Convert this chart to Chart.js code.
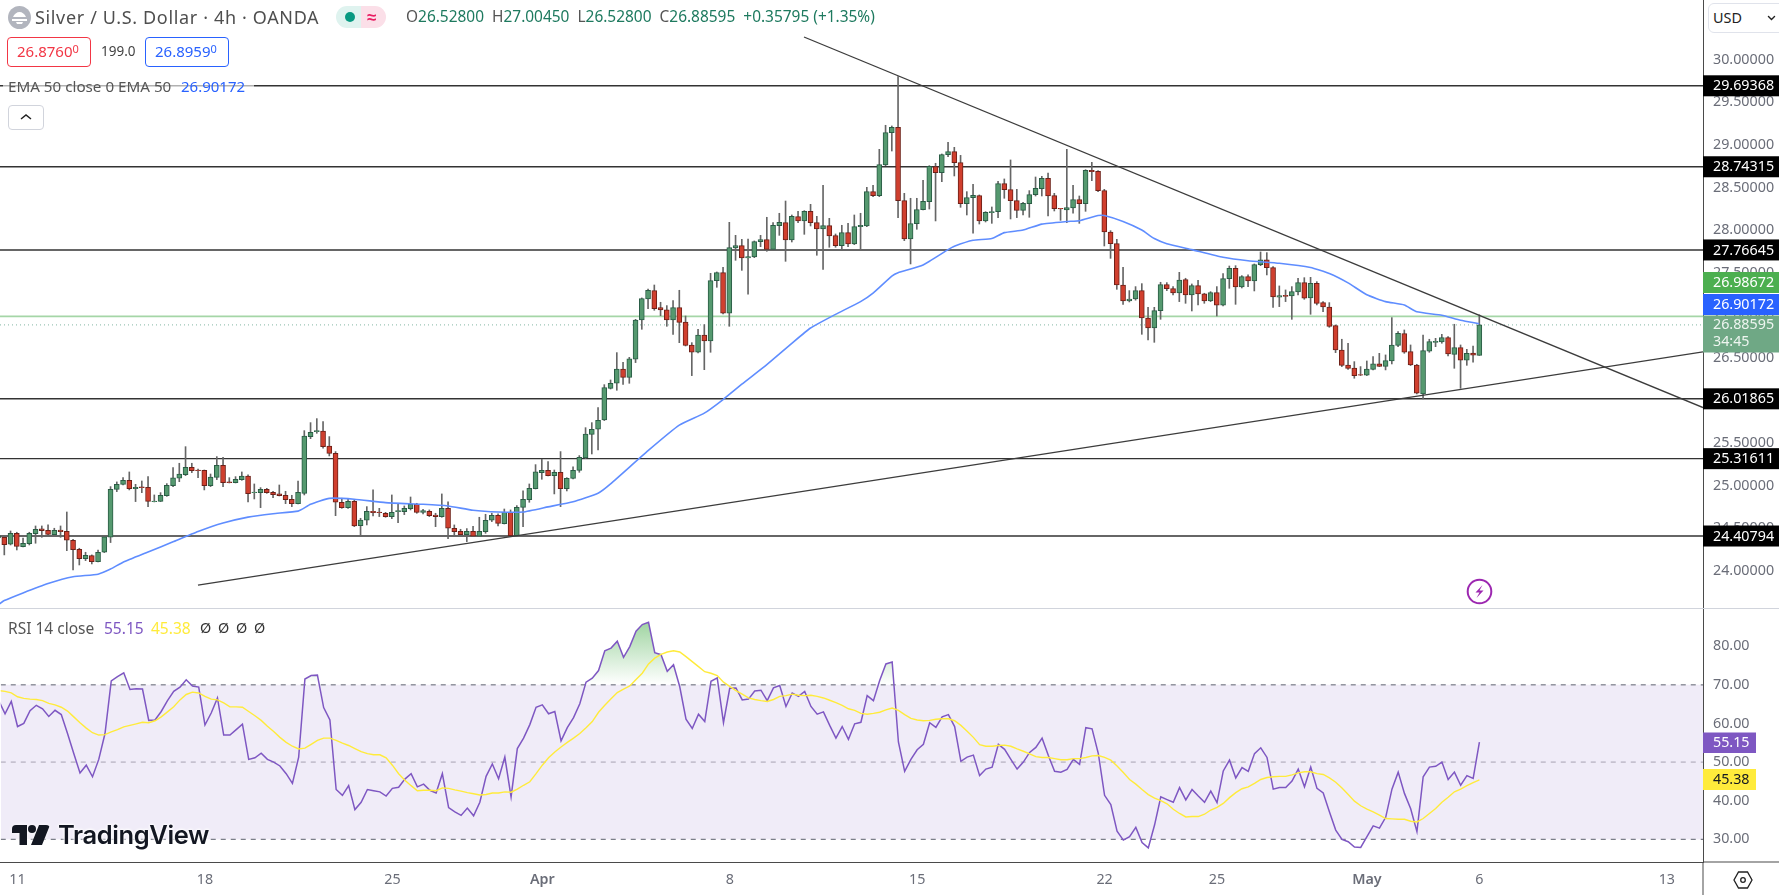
<!DOCTYPE html>
<html><head><meta charset="utf-8">
<script src="https://cdn.jsdelivr.net/npm/chart.js@4"></script>
<style>
html,body{margin:0;padding:0;background:#fff;width:1779px;height:895px;overflow:hidden}
body{font-family:"Noto Sans",sans-serif;color:#555}
canvas{position:absolute;left:0}
.t{position:absolute;white-space:nowrap;line-height:1}
.box{position:absolute;box-sizing:border-box;border-radius:4px}
sup{font-size:11px;vertical-align:baseline;position:relative;top:-4px}
</style></head><body>
<canvas id="main" width="1779" height="609" style="top:0;width:1779px;height:609px"></canvas>
<canvas id="rsi" width="1779" height="286" style="top:609px;width:1779px;height:286px"></canvas>

<svg class="box" style="left:8px;top:6px;width:23px;height:23px" viewBox="0 0 23 23"><circle cx="11.5" cy="11.5" r="11.5" fill="#b2b5be"/><path d="M5 11c1-3 4-5 6.500-5s5.500 2 6.500 5z" fill="#fff"/><rect x="4" y="13" width="15" height="2" fill="#fff"/><path d="M8 16h7l-1 2H9z" fill="#fff"/></svg>
<div class="t" style="left:35px;top:8px;font-size:18px;letter-spacing:.65px;color:#4f4f4f">Silver / U.S. Dollar · 4h · OANDA</div>
<div class="box" style="left:336px;top:6px;width:25px;height:22px;background:#dff3ef;border-radius:11px 0 0 11px"></div>
<div class="box" style="left:361px;top:6px;width:25px;height:22px;background:#fbdfe8;border-radius:0 11px 11px 0"></div>
<div class="box" style="left:345px;top:12px;width:10px;height:10px;background:#089981;border-radius:5px"></div>
<div class="t" style="left:367px;top:8px;font-size:17px;color:#e91e63;font-weight:700">≈</div>
<div class="t" style="left:406px;top:9px;font-size:15.450px;color:#555">O<span style="color:#1e7a5f">26.52800</span>&nbsp; H<span style="color:#1e7a5f">27.00450</span>&nbsp; L<span style="color:#1e7a5f">26.52800</span>&nbsp; C<span style="color:#1e7a5f">26.88595</span>&nbsp; <span style="color:#1e7a5f">+0.35795 (+1.35%)</span></div>

<div class="box" style="left:7px;top:37px;width:84px;height:30px;border:1px solid #f23645"></div>
<div class="t" style="left:17px;top:44px;font-size:15px;color:#f23645">26.8760<sup>0</sup></div>
<div class="t" style="left:101px;top:45px;font-size:13.5px;color:#444">199.0</div>
<div class="box" style="left:145px;top:37px;width:84px;height:30px;border:1px solid #2962ff"></div>
<div class="t" style="left:155px;top:44px;font-size:15px;color:#2962ff">26.8959<sup>0</sup></div>

<div class="box" style="left:3px;top:78px;width:251px;height:17px;background:rgba(255,255,255,.62);border-radius:0"></div>
<div class="t" style="left:8px;top:79px;font-size:15.200px;color:#555">EMA 50 close 0 EMA 50</div>
<div class="t" style="left:181px;top:79px;font-size:15px;color:#2962ff">26.90172</div>
<div class="box" style="left:8px;top:105px;width:36px;height:25px;border:1px solid #d1d4dc;background:#fff"></div>
<svg class="box" style="left:20px;top:112px;width:12px;height:10px" viewBox="0 0 12 10"><path d="M1 7l5-4 5 4" fill="none" stroke="#222" stroke-width="1.500"/></svg>

<div class="box" style="left:1708px;top:3px;width:80px;height:30px;border:1px solid #e0e3eb;border-radius:6px;background:#fff"></div>
<div class="t" style="left:1713px;top:11px;font-size:14.4px;color:#222">USD</div>
<svg class="box" style="left:1767px;top:15px;width:9px;height:6px" viewBox="0 0 9 6"><path d="M1 1l3.500 3.500L8 1" fill="none" stroke="#222" stroke-width="1.400"/></svg>

<svg class="box" style="left:1466px;top:578px;width:27px;height:27px" viewBox="0 0 27 27"><circle cx="13.5" cy="13.500" r="11.800" fill="#fff" stroke="#9c27b0" stroke-width="2"/><path d="M16.500 7l-7 7.500h4l-3 5.500 7-7.500h-4z" fill="#9c27b0"/></svg>

<div class="t" style="left:8px;top:621px;font-size:15.500px;color:#555">RSI 14 close</div>
<div class="t" style="left:104px;top:621px;font-size:15.500px;color:#7e57c2">55.15</div>
<div class="t" style="left:151px;top:621px;font-size:15.500px;color:#ffeb3b">45.38</div>
<div class="t" style="left:200px;top:621px;font-size:14.4px;color:#333;word-spacing:3px">Ø Ø Ø Ø</div>

<svg class="box" style="left:12px;top:825px;width:38px;height:20px;filter:drop-shadow(0 0 2px #fff)" viewBox="0 0 38 20"><path d="M0 0h15v20H7.500V8H0z" fill="#131722"/><circle cx="20" cy="4" r="4" fill="#131722"/><path d="M27 0h11l-8 20H19z" fill="#131722"/></svg>
<div class="t" style="left:58px;top:822px;font-size:25.500px;font-weight:600;letter-spacing:-.4px;font-family:Inter,sans-serif;color:#131722;text-shadow:0 0 3px #fff,0 0 3px #fff,0 0 3px #fff">TradingView</div>

<svg class="box" style="left:1733px;top:869px;width:20px;height:22px" viewBox="0 0 20 22"><path d="M5.500 3h9L19 11l-4.500 8h-9L1 11z" fill="none" stroke="#222" stroke-width="1.300"/><circle cx="10" cy="11" r="2.300" fill="none" stroke="#222" stroke-width="1.300"/></svg>

<script>
const opens=[24.385,24.393,24.311,24.440,24.283,24.319,24.436,24.491,24.475,24.424,
24.479,24.463,24.358,24.252,24.142,24.178,24.107,24.217,24.393,24.956,
25.015,25.062,24.964,24.984,24.980,24.812,24.815,24.882,24.999,25.086,
25.129,25.215,25.183,25.180,24.999,25.097,25.238,25.043,25.035,25.070,
25.113,24.917,24.917,24.956,24.921,24.902,24.886,24.839,24.788,24.909,
25.575,25.633,25.641,25.465,25.379,24.804,24.741,24.815,24.530,24.593,
24.698,24.690,24.675,24.636,24.694,24.694,24.729,24.784,24.686,24.698,
24.655,24.636,24.733,24.499,24.463,24.424,24.463,24.405,24.459,24.593,
24.651,24.553,24.686,24.412,24.745,24.835,24.964,25.152,25.179,25.117,
25.156,24.964,25.085,25.179,25.324,25.602,25.661,25.771,26.142,26.201,
26.369,26.271,26.483,26.944,27.191,27.289,27.089,27.062,26.944,27.089,
26.921,26.651,26.565,26.768,26.698,27.406,27.500,27.023,27.790,27.817,
27.672,27.684,27.864,27.888,27.774,28.052,28.087,27.884,28.158,28.107,
28.220,28.087,28.013,28.052,27.934,27.817,27.970,27.837,28.040,28.048,
28.451,28.404,28.764,29.144,29.206,28.345,27.895,28.075,28.240,28.333,
28.744,28.674,28.885,28.920,28.791,28.310,28.381,28.404,28.107,28.204,
28.216,28.545,28.474,28.345,28.232,28.310,28.416,28.486,28.607,28.404,
28.255,28.236,28.259,28.357,28.310,28.701,28.690,28.463,27.977,27.841,
27.355,27.168,27.191,27.289,26.968,26.850,27.054,27.359,27.312,27.261,
27.418,27.238,27.348,27.250,27.168,27.265,27.117,27.430,27.551,27.332,
27.453,27.402,27.594,27.649,27.559,27.211,27.234,27.226,27.273,27.383,
27.203,27.375,27.148,27.097,26.878,26.592,26.416,26.381,26.303,26.295,
26.365,26.428,26.400,26.463,26.647,26.784,26.573,26.416,26.076,26.577,
26.682,26.686,26.737,26.541,26.620,26.471,26.557,26.528];
const highs=[24.420,24.412,24.467,24.452,24.385,24.452,24.526,24.526,24.538,24.499,
24.526,24.690,24.369,24.264,24.217,24.186,24.244,24.401,24.988,25.043,
25.093,25.160,25.015,25.054,25.105,24.890,24.917,25.023,25.211,25.262,
25.457,25.262,25.195,25.183,25.136,25.340,25.332,25.093,25.105,25.160,
25.125,25.019,24.976,24.968,24.933,25.007,24.933,24.886,25.054,25.645,
25.739,25.786,25.751,25.575,25.399,24.851,24.839,24.831,24.616,24.753,
24.949,24.733,24.686,24.890,24.792,24.761,24.866,24.792,24.722,24.714,
24.675,24.902,24.808,24.538,24.487,24.495,24.522,24.628,24.663,24.675,
24.667,24.725,24.714,24.765,24.937,25.019,25.246,25.309,25.281,25.183,
25.399,25.093,25.219,25.352,25.680,25.739,25.915,26.185,26.240,26.561,
26.448,26.506,26.952,27.203,27.308,27.355,27.152,27.113,27.171,27.293,
26.991,26.678,26.835,26.890,27.492,27.508,27.563,28.091,27.938,27.891,
27.895,27.872,27.938,28.150,28.087,28.197,28.341,28.177,28.220,28.228,
28.302,28.161,28.525,28.138,27.954,28.056,28.079,28.177,28.197,28.502,
28.525,28.948,29.230,29.222,29.801,28.431,28.373,28.373,28.584,28.756,
28.784,28.893,29.030,28.971,28.877,28.451,28.537,28.412,28.216,28.271,
28.572,28.600,28.823,28.478,28.326,28.463,28.623,28.631,28.670,28.431,
28.255,28.948,28.525,28.400,28.709,28.795,28.698,28.478,27.993,27.891,
27.563,27.289,27.336,27.371,27.093,27.093,27.387,27.383,27.336,27.504,
27.434,27.367,27.410,27.258,27.277,27.336,27.488,27.578,27.582,27.465,
27.473,27.602,27.743,27.735,27.571,27.344,27.297,27.336,27.434,27.441,
27.445,27.394,27.160,27.148,26.886,26.718,26.671,26.455,26.397,26.463,
26.514,26.553,26.534,26.972,26.808,26.827,26.651,26.424,26.768,26.718,
26.729,26.776,26.749,26.894,26.651,26.600,26.639,27.0045];
const lows=[24.377,24.186,24.303,24.244,24.279,24.303,24.323,24.393,24.420,24.412,
24.393,24.236,24.009,24.068,24.119,24.080,24.103,24.213,24.331,24.929,
25.007,24.949,24.812,24.917,24.753,24.808,24.812,24.874,24.988,25.046,
25.117,25.152,25.093,24.949,24.988,25.070,24.988,25.031,25.031,25.062,
24.808,24.843,24.741,24.909,24.859,24.878,24.788,24.753,24.784,24.890,
25.551,25.614,25.438,25.348,24.647,24.733,24.733,24.518,24.409,24.538,
24.643,24.636,24.628,24.612,24.565,24.659,24.714,24.675,24.667,24.636,
24.518,24.628,24.377,24.405,24.409,24.342,24.401,24.401,24.440,24.577,
24.526,24.549,24.409,24.409,24.518,24.804,24.960,25.074,25.113,24.902,
24.753,24.937,25.078,25.156,25.316,25.371,25.418,25.763,26.134,26.119,
26.189,26.201,26.444,26.835,27.077,27.058,26.995,26.870,26.776,26.678,
26.639,26.291,26.557,26.361,26.565,27.328,27.015,26.870,27.645,27.527,
27.246,27.676,27.805,27.751,27.766,27.938,27.633,27.860,28.087,27.950,
28.048,27.704,27.539,27.798,27.798,27.766,27.805,27.829,27.774,28.040,
28.392,28.392,28.756,28.928,28.146,27.876,27.602,28.009,28.236,28.247,
28.107,28.568,28.862,28.635,28.267,28.177,27.962,28.071,28.095,28.079,
28.146,28.373,28.130,28.146,28.177,28.150,28.400,28.400,28.165,28.224,
28.114,28.087,28.197,28.079,28.220,28.580,28.451,27.813,27.668,27.304,
27.128,27.156,27.177,26.776,26.710,26.682,26.952,27.289,27.238,27.160,
27.140,27.050,27.121,27.140,27.160,26.991,27.109,27.316,27.128,27.320,
27.336,27.285,27.582,27.473,27.093,27.101,27.160,26.952,27.238,27.187,
27.011,27.121,27.042,26.858,26.561,26.397,26.365,26.260,26.291,26.291,
26.358,26.397,26.358,26.428,26.631,26.553,26.409,26.076,26.017,26.565,
26.631,26.671,26.522,26.377,26.142,26.412,26.448,26.528];
const closes=[24.409,24.307,24.440,24.287,24.323,24.440,24.487,24.471,24.428,24.475,
24.459,24.358,24.248,24.142,24.182,24.107,24.217,24.397,24.956,25.015,
25.062,24.964,24.980,24.976,24.815,24.819,24.886,25.003,25.090,25.136,
25.215,25.176,25.176,24.999,25.101,25.238,25.035,25.035,25.074,25.113,
24.906,24.925,24.956,24.917,24.894,24.882,24.835,24.788,24.921,25.582,
25.626,25.645,25.457,25.379,24.804,24.741,24.815,24.526,24.596,24.698,
24.683,24.683,24.636,24.686,24.706,24.733,24.784,24.686,24.706,24.647,
24.636,24.733,24.499,24.459,24.424,24.463,24.405,24.463,24.593,24.651,
24.557,24.686,24.412,24.745,24.839,24.968,25.160,25.179,25.117,25.156,
24.964,25.085,25.179,25.332,25.606,25.661,25.766,26.150,26.201,26.369,
26.271,26.487,26.944,27.195,27.293,27.077,27.062,26.944,27.089,26.917,
26.647,26.565,26.768,26.698,27.406,27.500,27.023,27.794,27.817,27.672,
27.688,27.864,27.888,27.774,28.056,28.091,27.884,28.161,28.107,28.220,
28.087,28.013,28.052,27.930,27.817,27.970,27.837,28.040,28.056,28.451,
28.404,28.768,29.144,29.206,28.345,27.895,28.075,28.240,28.337,28.748,
28.674,28.885,28.920,28.791,28.310,28.381,28.408,28.107,28.208,28.216,
28.545,28.474,28.345,28.232,28.314,28.416,28.490,28.607,28.400,28.251,
28.247,28.263,28.357,28.310,28.701,28.686,28.463,27.977,27.841,27.355,
27.168,27.191,27.289,26.968,26.850,27.054,27.359,27.312,27.261,27.414,
27.238,27.348,27.250,27.168,27.265,27.117,27.430,27.551,27.332,27.453,
27.402,27.594,27.649,27.559,27.214,27.230,27.222,27.277,27.383,27.199,
27.375,27.140,27.097,26.870,26.592,26.412,26.377,26.291,26.295,26.369,
26.428,26.400,26.467,26.651,26.788,26.565,26.416,26.084,26.584,26.690,
26.694,26.737,26.545,26.620,26.471,26.553,26.530,26.88595];

const emaBars=[0,1,4,8,12,16,18,20,24,28,32,36,40,44,48,50,53,57,62,68,72,76,80,84,88,92,96,98,104,109,113,116,119,123,127,130,134,138,140,143,144,148,152,153,156,159,161,164,167,171,173,176,177,180,183,185,187,191,196,200,205,210,213,216,219,222,225,227,231,234,237];
const emaValues=[23.60,23.65,23.74,23.85,23.93,23.96,24.02,24.10,24.22,24.34,24.46,24.56,24.63,24.67,24.70,24.78,24.85,24.84,24.80,24.78,24.76,24.71,24.69,24.69,24.75,24.81,24.91,25.02,25.41,25.71,25.85,26.01,26.19,26.42,26.67,26.85,27.01,27.16,27.26,27.46,27.50,27.59,27.77,27.81,27.88,27.90,27.97,28.00,28.07,28.10,28.11,28.17,28.17,28.10,28.00,27.90,27.84,27.77,27.68,27.64,27.61,27.56,27.49,27.38,27.24,27.16,27.12,27.04,27.00,26.94,26.90172];

const rsiValues=[65.9,62.5,65.7,59.2,60.0,63.3,64.7,63.8,61.8,63.4,
62.3,57.4,52.2,47.2,49.2,46.2,50.7,57.4,71.0,72.1,
73.1,68.8,69.0,68.9,60.8,60.9,63.1,65.9,68.3,69.4,
71.3,69.7,69.4,59.6,62.7,66.6,57.0,57.0,58.4,59.8,
50.7,51.1,52.3,50.7,50.0,49.0,47.0,44.5,51.3,71.5,
72.4,72.5,64.1,60.9,42.9,41.4,43.9,37.7,39.6,42.9,
42.6,42.3,41.2,43.2,43.5,45.6,47.0,43.6,44.3,42.7,
42.0,47.0,38.2,37.1,36.2,38.1,36.1,39.6,46.3,49.5,
45.7,51.3,41.0,53.5,56.2,59.7,64.2,64.8,62.5,63.1,
55.5,58.9,61.5,65.1,70.7,71.7,73.7,78.8,79.5,81.3,
77.1,79.9,83.9,85.6,86.2,78.3,77.8,73.5,75.2,69.5,
61.1,58.7,62.4,60.5,70.9,71.8,60.2,69.1,69.2,66.1,
66.3,68.4,68.6,65.9,69.2,69.8,64.4,67.9,67.0,68.3,
64.4,62.4,63.0,59.5,56.2,59.2,55.9,59.9,60.3,67.2,
65.9,71.1,75.4,75.9,55.2,47.6,50.7,53.2,54.6,60.2,
59.0,61.7,62.3,59.2,50.2,51.3,51.8,46.5,48.2,48.7,
54.6,53.3,50.7,48.2,50.0,52.5,53.8,56.2,51.7,47.6,
47.4,48.1,50.7,49.4,58.9,58.6,52.2,41.4,39.0,32.1,
29.8,30.7,33.1,29.2,27.8,33.7,41.0,40.3,39.6,43.4,
40.2,42.9,41.2,39.6,42.5,39.5,47.7,50.5,45.9,48.6,
47.6,52.2,53.7,51.2,43.0,43.4,43.4,45.1,48.2,43.6,
48.7,43.2,42.0,37.1,32.4,30.0,29.4,28.0,27.9,30.7,
33.5,32.9,35.7,43.0,47.4,41.9,37.9,32.0,46.2,48.7,
48.9,50.0,45.5,47.4,44.0,46.5,45.8,55.15];
const rsiMaValues=[68.5,68.3,67.9,66.9,66.5,66.3,66.2,65.9,65.2,64.8,
64.2,63.2,61.7,60.2,58.8,57.6,57.0,57.1,57.8,58.4,
59.1,59.5,59.9,60.3,60.2,60.7,61.7,63.0,64.3,66.1,
67.5,68.1,67.9,67.0,66.3,66.1,65.3,64.3,64.3,64.2,
63.1,62.0,60.8,59.3,57.9,56.4,55.1,54.1,53.4,53.6,
54.6,55.6,56.2,56.2,55.6,54.9,54.3,53.5,52.7,52.2,
51.9,51.9,51.1,49.2,47.0,45.3,43.9,42.6,42.7,42.7,
42.6,43.3,43.2,42.8,42.5,42.1,41.8,41.5,41.6,42.0,
42.0,42.3,42.2,43.0,44.0,44.9,47.0,49.2,51.1,52.6,
53.9,55.1,56.2,57.4,58.9,60.5,62.9,64.7,66.4,68.0,
68.9,69.7,71.4,73.0,75.4,76.9,77.9,78.5,78.8,78.5,
77.3,76.0,74.7,73.4,73.0,72.4,70.7,69.6,68.5,67.6,
66.6,66.2,65.9,65.7,66.2,67.0,67.2,67.6,67.3,67.2,
67.3,67.0,66.6,66.0,65.4,64.7,63.8,63.4,62.6,62.4,
62.6,62.9,63.5,64.0,63.4,62.3,61.3,60.9,60.7,60.8,
61.1,61.2,61.2,60.7,59.5,58.0,56.4,54.5,54.1,54.1,
54.3,54.4,54.1,53.4,52.8,52.1,51.4,51.2,51.2,50.9,
50.6,50.6,50.9,50.9,51.2,51.6,51.7,51.2,50.5,49.0,
47.3,45.5,44.3,42.9,41.6,40.7,40.0,39.2,37.8,36.7,
35.8,35.9,35.9,36.5,37.6,38.3,39.3,40.8,42.1,43.1,
43.6,44.5,45.5,46.0,46.2,46.3,46.3,46.7,47.2,47.5,
47.5,47.0,46.8,45.9,44.8,43.3,41.6,39.9,38.7,37.8,
37.1,36.3,35.4,35.3,35.2,35.2,34.7,34.5,35.4,36.7,
38.0,39.6,40.9,42.3,43.0,43.9,44.7,45.38];

const levels=[29.69368,28.74315,27.76645,26.01865,25.31611,24.40794];
const greenLevel=26.98672, lastClose=26.88595, emaLast=26.90172;
const descBars=[128.95,272.79], descPrices=[30.2665,25.916];
const ascBars=[31.99,272.79], ascPrices=[23.832,26.571];
const priceTicks=[30,29.5,29,28.5,28,27.5,27,26.5,26,25.5,25,24.5,24];
const rsiTicks=[80,70,60,50,40,30];
const rsiBands=[70,50,30];
const dayBars=[3,33,63,87,117,147,177,195,219,237,267];
const dayLabels=['11','18','25','Apr','8','15','22','25','May','6','13'];

const X_MIN=0.312, X_MAX=272.79;
const FONT='"Noto Sans",sans-serif', FS=14.3, TICKC='#6a6d78';
const UP='#55996f', DN='#d03f2e', UPB='#2a5c45', DNB='#6d2018', WICK='#666';
const AXW=76, AXH=33;
Chart.defaults.font.family=FONT;
Chart.defaults.animation=false;

const bars=opens.map((_,i)=>i);
const up=i=>closes[i]>=opens[i];
const seg=(xs,ys)=>xs.map((x,i)=>({x,y:ys[i]}));
const hline=(v,c,w,dash)=>({type:'line',data:[{x:X_MIN,y:v},{x:X_MAX,y:v}],borderColor:c,borderWidth:w,borderDash:dash||[],pointRadius:0,tension:0,order:9});
const noPad=s=>{s.paddingTop=0;s.paddingBottom=0;s.paddingLeft=0;s.paddingRight=0;};

const mainLabels={id:'mainLabels',afterDraw(c){
  const g=c.ctx,s=c.scales.y,x0=c.chartArea.right;
  g.save();g.font=FS+'px '+FONT;g.textBaseline='middle';g.textAlign='left';
  const box=(top,h,bg)=>{g.fillStyle=bg;g.fillRect(x0,top,AXW,h);};
  levels.forEach(v=>{const y=s.getPixelForValue(v);box(y-10.5,21,'#000');g.fillStyle='#fff';g.fillText(v.toFixed(5),x0+10,y+.5);});
  box(272,21,'#4caf50');g.fillStyle='#fff';g.fillText(greenLevel.toFixed(5),x0+10,282.5);
  box(294,21,'#2962ff');g.fillStyle='#fff';g.fillText(emaLast.toFixed(5),x0+10,304.5);
  box(315.5,37,'#6fa885');g.fillStyle='#eef5f0';g.fillText(lastClose.toFixed(5),x0+10,325);g.fillText('34:45',x0+10,342);
  const sep=c.height-1;g.fillStyle='#d1d4dc';g.fillRect(0,sep,c.width,1);
  g.restore();
}};

new Chart(document.getElementById('main'),{
  type:'bar',
  data:{datasets:[
    {type:'line',data:seg(emaBars,emaValues),borderColor:'#5f8dff',borderWidth:1.6,pointRadius:0,tension:.15,order:1},
    {type:'line',data:seg(descBars,descPrices),borderColor:'#3c3c3c',borderWidth:1.3,pointRadius:0,order:2},
    {type:'line',data:seg(ascBars,ascPrices),borderColor:'#3c3c3c',borderWidth:1.3,pointRadius:0,order:2},
    {type:'bar',data:bars.map(i=>({x:i,y:[opens[i],closes[i]]})),barThickness:5,grouped:false,borderWidth:1,borderSkipped:false,
      backgroundColor:c=>up(c.dataIndex)?UP:DN,borderColor:c=>up(c.dataIndex)?UPB:DNB,order:3},
    {type:'bar',data:bars.map(i=>({x:i,y:[lows[i],highs[i]]})),barThickness:1,grouped:false,borderWidth:0,backgroundColor:WICK,order:4},
    ...levels.map(v=>hline(v,'#333',1.4)),
    hline(greenLevel,'#a5d6a7',1.6),
    hline(lastClose,'#9cc5b6',1.2,[1,3])
  ]},
  options:{responsive:false,maintainAspectRatio:false,devicePixelRatio:1,
    layout:{padding:0},
    plugins:{legend:{display:false},tooltip:{enabled:false}},
    scales:{
      x:{type:'linear',min:X_MIN,max:X_MAX,display:false,grid:{display:false},offset:false},
      y:{position:'right',min:23.551,max:30.701,
        afterFit:s=>{s.width=AXW;noPad(s);},
        afterBuildTicks:s=>{s.ticks=priceTicks.map(v=>({value:v}));},
        grid:{display:false,drawTicks:false},
        border:{display:true,color:'#4a4a4a',width:1},
        ticks:{autoSkip:false,includeBounds:false,padding:10,color:TICKC,font:{size:FS},callback:v=>v.toFixed(5)}
      }
    }
  },
  plugins:[mainLabels,{id:'bg',beforeDraw(c){c.ctx.fillStyle='#fff';c.ctx.fillRect(0,0,c.width,c.height);}}]
});

const rsiLabels={id:'rsiLabels',afterDraw(c){
  const g=c.ctx,x0=c.chartArea.right,b=c.chartArea.bottom;
  g.save();g.font=FS+'px '+FONT;g.textBaseline='middle';g.textAlign='left';
  g.fillStyle='#4a4a4a';g.fillRect(x0,b-.5,AXW,1);g.fillRect(x0-.5,b,1,AXH);
  g.fillStyle='#7e57c2';g.fillRect(x0,123.5,53,20.5);g.fillStyle='#fff';g.fillText('55.15',x0+10,134);
  g.fillStyle='#ffeb3b';g.fillRect(x0,160,53,21);g.fillStyle='#131722';g.fillText('45.38',x0+10,171);
  g.restore();
}};
const rsiChart=new Chart(document.getElementById('rsi'),{
  type:'line',
  data:{datasets:[
    {data:seg(bars,rsiMaValues),borderColor:'#ffeb3b',borderWidth:1.4,pointRadius:0,tension:0,order:1},
    {data:seg(bars,rsiValues),borderColor:'#7e57c2',borderWidth:1.5,pointRadius:0,tension:0,order:2,fill:{target:{value:70},above:'rgba(76,175,80,.3)',below:'rgba(0,0,0,0)'}},
    hline(rsiBands[0],'#787b86',1.2,[5,5]),
    hline(rsiBands[1],'#b2aebd',1.2,[5,5]),
    hline(rsiBands[2],'#787b86',1.2,[5,5]),
    {data:[{x:X_MIN,y:rsiBands[0]},{x:X_MAX,y:rsiBands[0]}],pointRadius:0,borderWidth:0,fill:{value:rsiBands[2]},backgroundColor:'rgba(126,87,194,.115)',order:10}
  ]},
  options:{responsive:false,maintainAspectRatio:false,devicePixelRatio:1,
    layout:{padding:0},
    plugins:{legend:{display:false},tooltip:{enabled:false}},
    scales:{
      x:{type:'linear',min:X_MIN,max:X_MAX,
        afterFit:s=>{s.height=AXH;noPad(s);},
        afterBuildTicks:s=>{s.ticks=dayBars.map(v=>({value:v}));},
        grid:{display:false,drawTicks:false},
        border:{display:true,color:'#4a4a4a',width:1},
        ticks:{autoSkip:false,includeBounds:false,maxRotation:0,padding:9,color:TICKC,
          font:c=>({size:FS,weight:(c.tick&&(c.tick.value===87||c.tick.value===219))?'600':'400'}),
          callback:v=>{const k=dayBars.indexOf(v);return k<0?'':dayLabels[k];}}
      },
      y:{position:'right',min:24.14,max:89.43,
        afterFit:s=>{s.width=AXW;noPad(s);},
        afterBuildTicks:s=>{s.ticks=rsiTicks.map(v=>({value:v}));},
        grid:{display:false,drawTicks:false},
        border:{display:true,color:'#4a4a4a',width:1},
        ticks:{autoSkip:false,includeBounds:false,padding:10,color:TICKC,font:{size:FS},callback:v=>v.toFixed(2)}
      }
    }
  },
  plugins:[rsiLabels,{id:'bg',beforeDraw(c){c.ctx.fillStyle='#fff';c.ctx.fillRect(0,0,c.width,c.height);}}]
});
const yS=rsiChart.scales.y, gradCtx=rsiChart.ctx.createLinearGradient(0,yS.getPixelForValue(86.5),0,yS.getPixelForValue(70));
gradCtx.addColorStop(0,'rgba(76,175,80,.55)');gradCtx.addColorStop(1,'rgba(76,175,80,0)');
rsiChart.data.datasets[1].fill.above=gradCtx;
rsiChart.update('none');
</script>
</body></html>
